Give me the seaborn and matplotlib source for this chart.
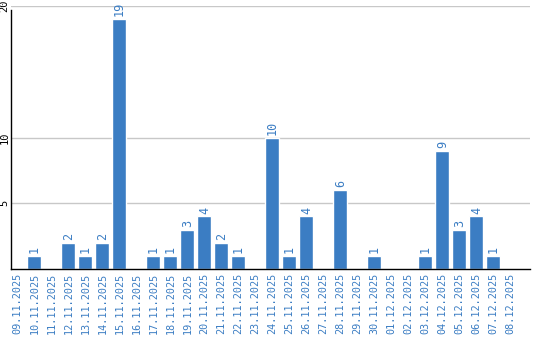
import matplotlib
matplotlib.use("Agg")
import matplotlib.pyplot as plt
import seaborn as sns
import pandas as pd

dates = ["09.11.2025", "10.11.2025", "11.11.2025", "12.11.2025", "13.11.2025",
         "14.11.2025", "15.11.2025", "16.11.2025", "17.11.2025", "18.11.2025",
         "19.11.2025", "20.11.2025", "21.11.2025", "22.11.2025", "23.11.2025",
         "24.11.2025", "25.11.2025", "26.11.2025", "27.11.2025", "28.11.2025",
         "29.11.2025", "30.11.2025", "01.12.2025", "02.12.2025", "03.12.2025",
         "04.12.2025", "05.12.2025", "06.12.2025", "07.12.2025", "08.12.2025"]
counts = [0, 1, 0, 2, 1, 2, 19, 0, 1, 1, 3, 4, 2, 1, 0,
          10, 1, 4, 0, 6, 0, 1, 0, 0, 1, 9, 3, 4, 1, 0]
y_ticks = [5, 10, 20]

BLUE = "#3b7dc3"

sns.set_style("white")
plt.rcParams['font.family'] = ['DejaVu Sans Mono', 'DejaVu Sans']

df = pd.DataFrame({"date": dates, "count": counts})

fig = plt.figure(figsize=(5.4, 3.4), dpi=100)
ax = fig.add_axes([11/540, 71/340, (530-11)/540, (269-6)/340])

sns.barplot(data=df, x="date", y="count", color=BLUE, saturation=1,
            width=14/17, ax=ax, zorder=3)

labels = [str(v) if v > 0 else "" for v in counts]
ax.bar_label(ax.containers[0], labels=labels, rotation=90, padding=2,
             color=BLUE, fontsize=8.5)

ax.set_xlim(-0.38, 30.15)
ax.set_ylim(0, 20)
ax.set_yticks(y_ticks)
ax.set_yticklabels([str(t) for t in y_ticks], rotation=90, va="center",
                   fontsize=7.5, color="black")
ax.tick_params(axis="y", length=0, pad=1)
ax.tick_params(axis="x", length=0, pad=3, labelrotation=90, labelsize=7.3,
               labelcolor=BLUE)
ax.set_xlabel("")
ax.set_ylabel("")

for t in y_ticks:
    ax.axhline(t, color="#c8c8c8", linewidth=1, zorder=1)

ax.spines["left"].set_bounds(0, 19.7)
for s in ["top", "right"]:
    ax.spines[s].set_visible(False)
for s in ["left", "bottom"]:
    ax.spines[s].set_color("black")
    ax.spines[s].set_linewidth(1)
    ax.spines[s].set_zorder(4)

fig.savefig("out.png", dpi=100)
